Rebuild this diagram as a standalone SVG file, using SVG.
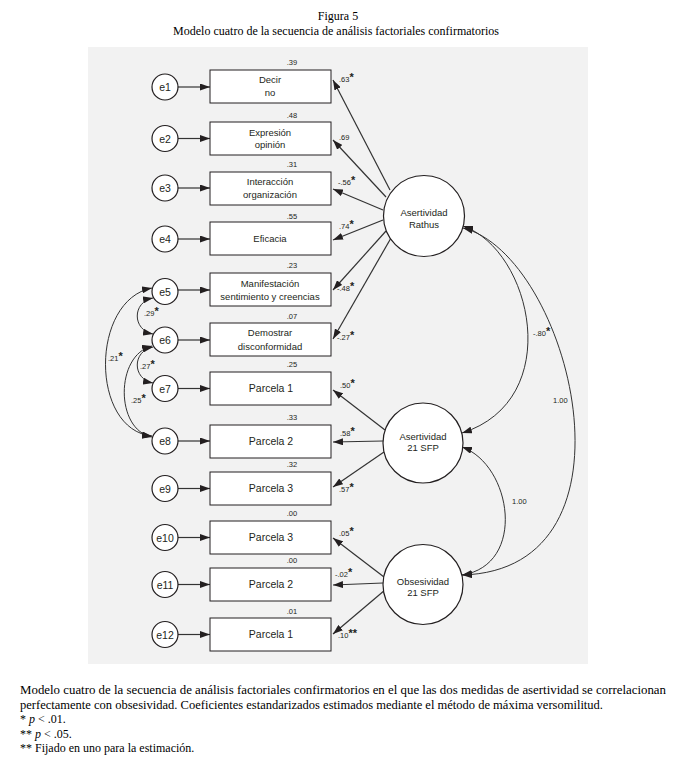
<svg xmlns="http://www.w3.org/2000/svg" width="676" height="767" viewBox="0 0 676 767">
<style>
.bg{fill:#f2f2f2}
.box{fill:#fff;stroke:#231f20;stroke-width:1}
.ell{fill:#fff;stroke:#231f20;stroke-width:1.2}
.lbl{font-family:"Liberation Sans",Arial,sans-serif;fill:#231f20;text-anchor:middle}
.bt{font-size:9.5px}
.pt{font-size:10.5px}
.et{font-size:10.5px}
.num{font-family:"Liberation Sans",Arial,sans-serif;fill:#231f20;font-size:7.5px}
.st{font-size:11px;font-weight:bold}
.lt{font-size:9.5px}
.ser{font-family:"Liberation Serif","Times New Roman",serif;fill:#000;font-size:12px}
.ln{stroke:#333;stroke-width:1.2;fill:none}
.cv{stroke:#333;stroke-width:1;fill:none}
</style>
<defs>
<marker id="ah" viewBox="0 0 10 7" refX="10" refY="3.5" markerWidth="10" markerHeight="7" markerUnits="userSpaceOnUse" orient="auto-start-reverse">
<path d="M0,0 L10,3.5 L0,7 z" fill="#231f20"/>
</marker>
</defs>
<text class="ser" x="338" y="20" text-anchor="middle">Figura 5</text>
<text class="ser" x="336" y="35" text-anchor="middle">Modelo cuatro de la secuencia de análisis factoriales confirmatorios</text>
<rect class="bg" x="88" y="47" width="500" height="617"/>

<g id="connectors">
<line class="ln" x1="178" y1="87" x2="210" y2="87" marker-end="url(#ah)"/>
<line class="ln" x1="178" y1="138.5" x2="210" y2="138.5" marker-end="url(#ah)"/>
<line class="ln" x1="178" y1="188" x2="210" y2="188" marker-end="url(#ah)"/>
<line class="ln" x1="178" y1="239" x2="210" y2="239" marker-end="url(#ah)"/>
<line class="ln" x1="178" y1="290" x2="210" y2="290" marker-end="url(#ah)"/>
<line class="ln" x1="178" y1="340" x2="210" y2="340" marker-end="url(#ah)"/>
<line class="ln" x1="178" y1="388.5" x2="210" y2="388.5" marker-end="url(#ah)"/>
<line class="ln" x1="178" y1="441" x2="210" y2="441" marker-end="url(#ah)"/>
<line class="ln" x1="178" y1="488.5" x2="210" y2="488.5" marker-end="url(#ah)"/>
<line class="ln" x1="178" y1="537.5" x2="210" y2="537.5" marker-end="url(#ah)"/>
<line class="ln" x1="178" y1="584.5" x2="210" y2="584.5" marker-end="url(#ah)"/>
<line class="ln" x1="178" y1="634.5" x2="210" y2="634.5" marker-end="url(#ah)"/>

<line class="ln" x1="390" y1="190" x2="333" y2="80" marker-end="url(#ah)"/>
<line class="ln" x1="386" y1="197" x2="333" y2="140" marker-end="url(#ah)"/>
<line class="ln" x1="383" y1="210" x2="333" y2="189" marker-end="url(#ah)"/>
<line class="ln" x1="383" y1="220" x2="333" y2="240" marker-end="url(#ah)"/>
<line class="ln" x1="386" y1="231" x2="333" y2="290" marker-end="url(#ah)"/>
<line class="ln" x1="391" y1="238" x2="333" y2="339" marker-end="url(#ah)"/>
<line class="ln" x1="385" y1="430" x2="333" y2="390" marker-end="url(#ah)"/>
<line class="ln" x1="383" y1="441" x2="333" y2="442" marker-end="url(#ah)"/>
<line class="ln" x1="384" y1="452" x2="333" y2="487" marker-end="url(#ah)"/>
<line class="ln" x1="384" y1="577" x2="333" y2="538" marker-end="url(#ah)"/>
<line class="ln" x1="383" y1="583" x2="333" y2="585" marker-end="url(#ah)"/>
<line class="ln" x1="385" y1="590" x2="333" y2="634" marker-end="url(#ah)"/>

<path class="cv" d="M463,226 C532,250 566,400 462,433" marker-start="url(#ah)" marker-end="url(#ah)"/>
<path class="cv" d="M463,228 C570,255 650,570 462,575" marker-start="url(#ah)" marker-end="url(#ah)"/>
<path class="cv" d="M462,447 C512,465 527,565 462,575" marker-start="url(#ah)" marker-end="url(#ah)"/>

<path class="cv" d="M153,298 C132,302 132,330 153,334" marker-start="url(#ah)" marker-end="url(#ah)"/>
<path class="cv" d="M153,347 C132,351 132,379 153,383" marker-start="url(#ah)" marker-end="url(#ah)"/>
<path class="cv" d="M152,288 C90,300 90,430 152,436" marker-start="url(#ah)" marker-end="url(#ah)"/>
<path class="cv" d="M152,346 C115,355 115,430 152,437" marker-start="url(#ah)" marker-end="url(#ah)"/>
</g>

<g id="e1"><circle class="ell" cx="165" cy="87" r="13"/><text class="lbl et" x="165" y="91">e1</text></g>
<g id="e2"><circle class="ell" cx="165" cy="138.5" r="13"/><text class="lbl et" x="165" y="142.5">e2</text></g>
<g id="e3"><circle class="ell" cx="165" cy="188" r="13"/><text class="lbl et" x="165" y="192">e3</text></g>
<g id="e4"><circle class="ell" cx="165" cy="239" r="13"/><text class="lbl et" x="165" y="243">e4</text></g>
<g id="e5"><circle class="ell" cx="165" cy="291.5" r="13"/><text class="lbl et" x="165" y="295.5">e5</text></g>
<g id="e6"><circle class="ell" cx="165" cy="340" r="13"/><text class="lbl et" x="165" y="344">e6</text></g>
<g id="e7"><circle class="ell" cx="165" cy="388.5" r="13"/><text class="lbl et" x="165" y="392.5">e7</text></g>
<g id="e8"><circle class="ell" cx="165" cy="441" r="13"/><text class="lbl et" x="165" y="445">e8</text></g>
<g id="e9"><circle class="ell" cx="165" cy="488.5" r="13"/><text class="lbl et" x="165" y="492.5">e9</text></g>
<g id="e10"><circle class="ell" cx="165" cy="537.5" r="13"/><text class="lbl et" x="165" y="541.5">e10</text></g>
<g id="e11"><circle class="ell" cx="165" cy="584.5" r="13"/><text class="lbl et" x="165" y="588.5">e11</text></g>
<g id="e12"><circle class="ell" cx="165" cy="634.5" r="13"/><text class="lbl et" x="165" y="638.5">e12</text></g>

<g id="box1"><rect class="box" x="210" y="70" width="121" height="33"/><text class="lbl bt" x="270" y="83">Decir</text><text class="lbl bt" x="270" y="96">no</text><text class="num" x="292" y="65" text-anchor="middle">.39</text></g>
<g id="box2"><rect class="box" x="210" y="122" width="121" height="33"/><text class="lbl bt" x="270" y="135.5">Expresión</text><text class="lbl bt" x="270" y="148">opinión</text><text class="num" x="292" y="118" text-anchor="middle">.48</text></g>
<g id="box3"><rect class="box" x="210" y="172" width="121" height="33"/><text class="lbl bt" x="270" y="185">Interacción</text><text class="lbl bt" x="270" y="198">organización</text><text class="num" x="292" y="167" text-anchor="middle">.31</text></g>
<g id="box4"><rect class="box" x="210" y="222" width="121" height="33"/><text class="lbl bt" x="270" y="242">Eficacia</text><text class="num" x="292" y="218.5" text-anchor="middle">.55</text></g>
<g id="box5"><rect class="box" x="210" y="273" width="121" height="33"/><text class="lbl bt" x="270" y="286.5">Manifestación</text><text class="lbl bt" x="270" y="300">sentimiento y creencias</text><text class="num" x="292" y="268" text-anchor="middle">.23</text></g>
<g id="box6"><rect class="box" x="210" y="323" width="121" height="33"/><text class="lbl bt" x="270" y="336">Demostrar</text><text class="lbl bt" x="270" y="349.5">disconformidad</text><text class="num" x="292" y="319" text-anchor="middle">.07</text></g>
<g id="box7"><rect class="box" x="210" y="372" width="121" height="33"/><text class="lbl pt" x="271" y="392">Parcela 1</text><text class="num" x="292" y="367" text-anchor="middle">.25</text></g>
<g id="box8"><rect class="box" x="210" y="425" width="121" height="33"/><text class="lbl pt" x="271" y="445">Parcela 2</text><text class="num" x="292" y="419.5" text-anchor="middle">.33</text></g>
<g id="box9"><rect class="box" x="210" y="472" width="121" height="33"/><text class="lbl pt" x="271" y="492">Parcela 3</text><text class="num" x="292" y="467" text-anchor="middle">.32</text></g>
<g id="box10"><rect class="box" x="210" y="521" width="121" height="33"/><text class="lbl pt" x="271" y="541">Parcela 3</text><text class="num" x="292" y="516" text-anchor="middle">.00</text></g>
<g id="box11"><rect class="box" x="210" y="568" width="121" height="33"/><text class="lbl pt" x="271" y="588">Parcela 2</text><text class="num" x="292" y="563" text-anchor="middle">.00</text></g>
<g id="box12"><rect class="box" x="210" y="618" width="121" height="33"/><text class="lbl pt" x="271" y="638">Parcela 1</text><text class="num" x="292" y="613.5" text-anchor="middle">.01</text></g>

<g id="rathus"><circle class="ell" cx="424" cy="216" r="40.5"/><text class="lbl lt" x="424" y="216">Asertividad</text><text class="lbl lt" x="424" y="227.5">Rathus</text></g>
<g id="sfp"><circle class="ell" cx="423" cy="443" r="40"/><text class="lbl lt" x="423" y="439.5">Asertividad</text><text class="lbl lt" x="423" y="450.5">21 SFP</text></g>
<g id="obses"><circle class="ell" cx="423" cy="584.5" r="40"/><text class="lbl lt" x="423" y="585">Obsesividad</text><text class="lbl lt" x="423" y="596">21 SFP</text></g>

<g id="loadings">
<text class="num" x="339" y="82">.63<tspan class="st" dy="-1">*</tspan></text>
<text class="num" x="339" y="139.5">.69</text>
<text class="num" x="338" y="184.5">-.56<tspan class="st" dy="-1">*</tspan></text>
<text class="num" x="339" y="228.5">.74<tspan class="st" dy="-1">*</tspan></text>
<text class="num" x="337" y="291">-.48<tspan class="st" dy="-1">*</tspan></text>
<text class="num" x="337" y="339.5">-.27<tspan class="st" dy="-1">*</tspan></text>
<text class="num" x="340" y="388">.50<tspan class="st" dy="-1">*</tspan></text>
<text class="num" x="340" y="435.5">.58<tspan class="st" dy="-1">*</tspan></text>
<text class="num" x="339" y="492">.57<tspan class="st" dy="-1">*</tspan></text>
<text class="num" x="339" y="536">.05<tspan class="st" dy="-1">*</tspan></text>
<text class="num" x="335" y="577">-.02<tspan class="st" dy="-1">*</tspan></text>
<text class="num" x="338" y="638">.10<tspan class="st" dy="-1">**</tspan></text>
<text class="num" x="533" y="336">-.80<tspan class="st" dy="-1">*</tspan></text>
<text class="num" x="553" y="403">1.00</text>
<text class="num" x="512" y="504">1.00</text>
<text class="num" x="144" y="316">.29<tspan class="st" dy="-1">*</tspan></text>
<text class="num" x="108" y="361">.21<tspan class="st" dy="-1">*</tspan></text>
<text class="num" x="140" y="369">.27<tspan class="st" dy="-1">*</tspan></text>
<text class="num" x="131" y="403">.25<tspan class="st" dy="-1">*</tspan></text>
</g>

<text class="ser" x="20" y="694" textLength="646" lengthAdjust="spacingAndGlyphs">Modelo cuatro de la secuencia de análisis factoriales confirmatorios en el que las dos medidas de asertividad se correlacionan</text>
<text class="ser" x="20" y="709" textLength="583" lengthAdjust="spacingAndGlyphs">perfectamente con obsesividad. Coeficientes estandarizados estimados mediante el método de máxima versomilitud.</text>
<text class="ser" x="20" y="723">* <tspan font-style="italic">p</tspan> &lt; .01.</text>
<text class="ser" x="20" y="738">** <tspan font-style="italic">p</tspan> &lt; .05.</text>
<text class="ser" x="20" y="752">** Fijado en uno para la estimación.</text>
</svg>
